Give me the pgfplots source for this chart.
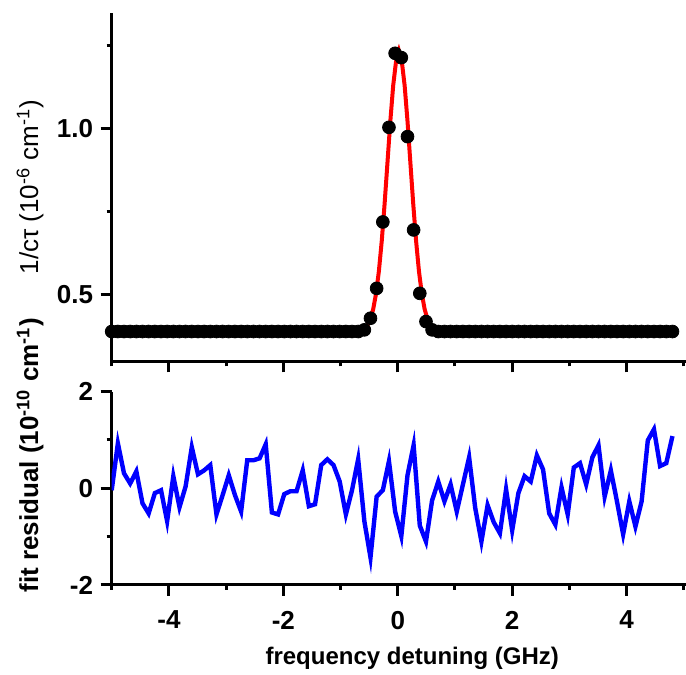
\documentclass[border=0pt]{standalone}
\usepackage{fontspec}
\setmainfont{Liberation Sans}
\usepackage{pgfplots}
\usepackage{pgfplotstable}
\pgfplotsset{compat=1.18}

\pgfplotstableread{
x y
-5.000 0.39
-4.892 0.39
-4.785 0.39
-4.677 0.39
-4.569 0.39
-4.462 0.39
-4.354 0.39
-4.246 0.39
-4.138 0.39
-4.031 0.39
-3.923 0.39
-3.815 0.39
-3.708 0.39
-3.600 0.39
-3.492 0.39
-3.385 0.39
-3.277 0.39
-3.169 0.39
-3.061 0.39
-2.954 0.39
-2.846 0.39
-2.738 0.39
-2.631 0.39
-2.523 0.39
-2.415 0.39
-2.308 0.39
-2.200 0.39
-2.092 0.39
-1.984 0.39
-1.877 0.39
-1.769 0.39
-1.661 0.39
-1.554 0.39
-1.446 0.39
-1.338 0.39
-1.231 0.39
-1.123 0.39
-1.015 0.39
-0.907 0.39
-0.800 0.39
-0.692 0.39
-0.584 0.395
-0.477 0.43
-0.369 0.52
-0.261 0.72
-0.154 1.005
-0.046 1.228
0.062 1.215
0.170 0.977
0.277 0.696
0.385 0.505
0.493 0.42
0.600 0.395
0.708 0.39
0.816 0.39
0.923 0.39
1.031 0.39
1.139 0.39
1.247 0.39
1.354 0.39
1.462 0.39
1.570 0.39
1.677 0.39
1.785 0.39
1.893 0.39
2.000 0.39
2.108 0.39
2.216 0.39
2.324 0.39
2.431 0.39
2.539 0.39
2.647 0.39
2.754 0.39
2.862 0.39
2.970 0.39
3.077 0.39
3.185 0.39
3.293 0.39
3.401 0.39
3.508 0.39
3.616 0.39
3.724 0.39
3.831 0.39
3.939 0.39
4.047 0.39
4.154 0.39
4.262 0.39
4.370 0.39
4.478 0.39
4.585 0.39
4.693 0.39
4.801 0.39
}\datatable

\pgfplotstableread{
x y
-5.00 0.39
-0.80 0.39
-0.68 0.392
-0.58 0.399
-0.53 0.409
-0.48 0.427
-0.43 0.457
-0.38 0.504
-0.33 0.572
-0.28 0.663
-0.23 0.775
-0.18 0.899
-0.13 1.024
-0.08 1.131
-0.03 1.204
0.02 1.235
0.07 1.204
0.12 1.131
0.17 1.024
0.22 0.899
0.27 0.775
0.32 0.663
0.37 0.572
0.42 0.504
0.47 0.457
0.52 0.427
0.57 0.409
0.62 0.399
0.72 0.392
0.82 0.39
4.801 0.39
}\fittable

\pgfplotstableread{
x r
-5.000 -0.04
-4.892 0.93
-4.785 0.31
-4.677 0.10
-4.569 0.35
-4.462 -0.31
-4.354 -0.52
-4.246 -0.10
-4.138 -0.04
-4.031 -0.68
-3.923 0.25
-3.815 -0.39
-3.708 0.04
-3.600 0.85
-3.492 0.29
-3.385 0.37
-3.277 0.48
-3.169 -0.54
-3.061 -0.14
-2.954 0.27
-2.846 -0.14
-2.738 -0.48
-2.631 0.58
-2.523 0.58
-2.415 0.62
-2.308 0.91
-2.200 -0.50
-2.092 -0.54
-1.984 -0.12
-1.877 -0.06
-1.769 -0.06
-1.661 0.37
-1.554 -0.37
-1.446 -0.33
-1.338 0.48
-1.231 0.60
-1.123 0.48
-1.015 0.14
-0.907 -0.54
-0.800 -0.04
-0.692 0.60
-0.584 -0.68
-0.477 -1.43
-0.369 -0.17
-0.261 -0.04
-0.154 0.56
-0.046 -0.48
0.062 -0.99
0.170 0.27
0.277 0.89
0.385 -0.77
0.493 -1.10
0.600 -0.25
0.708 0.14
0.816 -0.27
0.923 0.08
1.031 -0.48
1.139 0.08
1.247 0.64
1.354 -0.41
1.462 -1.10
1.570 -0.35
1.677 -0.70
1.785 -0.93
1.893 -0.02
2.000 -0.87
2.108 -0.10
2.216 0.25
2.324 0.14
2.431 0.68
2.539 0.39
2.647 -0.52
2.754 -0.75
2.862 0.02
2.970 -0.54
3.077 0.43
3.185 0.52
3.293 0.08
3.401 0.64
3.508 0.89
3.616 -0.17
3.724 0.37
3.831 -0.27
3.939 -0.95
4.047 -0.27
4.154 -0.79
4.262 -0.27
4.370 0.99
4.478 1.22
4.585 0.46
4.693 0.52
4.801 1.08
}\restable

\pgfplotsset{
  myaxis/.style={
    scale only axis,
    width=287.5pt,
    xmin=-5, xmax=5.05,
    axis x line*=bottom, axis y line*=left,
    axis line style={-, line width=1.5pt, black},
    xtick pos=left, ytick pos=left,
    tick align=outside,
    major tick length=5.5pt, minor tick length=2.5pt,
    every tick/.style={line width=1.5pt, black},
    minor tick style={line width=1.5pt, black},
    xtick={-4,-2,0,2,4},
    minor xtick={-5,-3,-1,1,3,5},
    tick label style={font=\bfseries\fontsize{13}{15}\selectfont},
    yticklabel style={xshift=-0.3pt},
    xticklabel style={yshift=-4pt},
  }
}

\begin{document}
\begin{tikzpicture}
\useasboundingbox (0,0) rectangle (343pt,337.5pt);
\begin{axis}[myaxis,
  at={(55.85pt,156.8pt)}, anchor=south west,
  height=174.3pt,
  ymin=0.3, ymax=1.35,
  ytick={0.5,1.0}, yticklabels={0.5,1.0},
  minor ytick={0.75,1.25},
  xticklabels={},
  clip=false,
  ylabel={\fontsize{13}{15}\selectfont 1/cτ (10\textsuperscript{-6} cm\textsuperscript{-1})},
  ylabel style={at={(axis description cs:-0.142,0.5)}, anchor=center},
]
\addplot[only marks, mark=*, mark size=3.2pt, black] table[x=x,y=y]{\datatable};
\addplot[red, line width=2pt, no marks] table[x=x,y=y]{\fittable};
\end{axis}

\begin{axis}[myaxis,
  at={(55.85pt,45pt)}, anchor=south west,
  height=96.7pt,
  ymin=-2, ymax=2,
  ytick={-2,0,2}, yticklabels={-2,0,2},
  minor ytick={-1,1},
  xticklabels={-4,-2,0,2,4},
  ylabel={\bfseries\fontsize{13}{15}\selectfont fit residual (10\textsuperscript{-10} cm\textsuperscript{-1})},
  ylabel style={at={(axis description cs:-0.142,0.67)}, anchor=center},
  xlabel={\bfseries\fontsize{12}{14}\selectfont frequency detuning (GHz)},
  xlabel style={at={(axis description cs:0.5,0)}, anchor=center, yshift=-36.5pt, xshift=6.5pt},
]
\addplot[blue, line width=2.2pt, no marks] table[x=x,y=r]{\restable};
\end{axis}
\end{tikzpicture}
\end{document}
